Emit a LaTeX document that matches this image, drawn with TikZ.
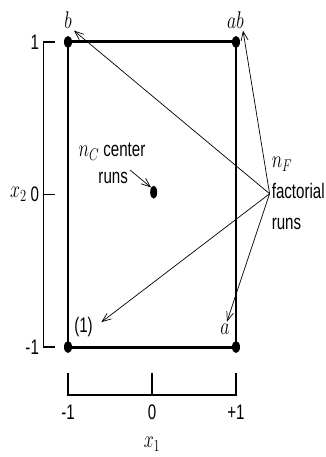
\documentclass[tikz,border=0pt]{standalone}
\usepackage{fix-cm}
\usepackage{fontspec}
\setmainfont{Liberation Sans}[FakeStretch=0.72]
\usetikzlibrary{arrows.meta,shapes.geometric}

% schmale Mathe-Labels
\newcommand{\nm}[1]{\scalebox{0.85}[1.15]{$#1$}}

\tikzset{
    run/.style={ellipse, fill=black, inner sep=0pt, minimum width=8pt, minimum height=12pt},
    pointer/.style={-{Straight Barb[length=9pt,width=7pt]}, line width=0.7pt},
    ruler/.style={line width=1.3pt},
    lbl/.style={inner sep=2pt}
}

\begin{document}
\begin{tikzpicture}[x=84pt, y=152.5pt, font=\fontsize{21}{31}\selectfont]
    \useasboundingbox (-1.8095,-1.7213) rectangle (2.0714,1.2754);

    % 设计点 (四个角点和中心点)
    \node[run] (mm) at (-1,-1) {};
    \node[run] (pm) at (1,-1) {};
    \node[run] (pp) at (1,1) {};
    \node[run] (mp) at (-1,1) {};
    \node[run, minimum width=7pt, minimum height=13pt] (cdot) at (0.02,0.015) {};

    % 方框
    \draw[line width=3pt] (mm.center) -- (pm.center);
    \draw[line width=3pt] (mp.center) -- (pp.center);
    \draw[line width=2pt] (mm.center) -- (mp.center);
    \draw[line width=2pt] (pm.center) -- (pp.center);

    % 左侧标尺 x_2
    \def\ax{-1.29}
    \def\at{-1.15}
    \draw[ruler] (\at,1) -- (\ax,1) -- (\ax,-1) -- (\at,-1);
    \draw[ruler] (\ax,0) -- (\at,0);
    \node[lbl, anchor=east] (y1) at (-1.32,1) {1};
    \node[lbl, anchor=east] (y0) at (-1.32,0) {0};
    \node[lbl, anchor=east] (ym) at (-1.32,-1) {-1};
    \node[lbl] (x2) at (-1.59,0) {\nm{x_2}};

    % 下方标尺 x_1
    \def\by{-1.315}
    \def\bt{-1.17}
    \draw[ruler] (-1,\bt) -- (-1,\by) -- (1,\by) -- (1,\bt);
    \draw[ruler] (0,\by) -- (0,\bt);
    \node[lbl] (xm) at (-1,-1.426) {-1};
    \node[lbl] (x0) at (0,-1.426) {0};
    \node[lbl] (xp) at (1,-1.426) {+1};
    \node[lbl] (x1) at (0,-1.64) {\nm{x_1}};

    % 角点标记
    \node[lbl] (lb) at (-1,1.144) {\nm{b}};
    \node[lbl] (lab) at (0.994,1.144) {\nm{ab}};
    \node[lbl] (la) at (0.869,-0.882) {\nm{a}};
    \node[lbl] (l1) at (-0.815,-0.869) {(1)};

    % 中心点说明
    \node[lbl] (ctop) at (-0.476,0.279) {\nm{n_C} center};
    \node[lbl] (cruns) at (-0.462,0.108) {runs};
    \draw[pointer] (cruns.north east) -- (cdot.north west);

    % 析因点说明
    \node[lbl, anchor=west, align=left] (fnote) at (1.40,0.005) {\nm{n_F}\\factorial\\runs};
    \draw[pointer] (fnote.west) -- (lb.south east);
    \draw[pointer] (fnote.west) -- ([xshift=-3pt]lab.south east);
    \draw[pointer, shorten >=8pt] (fnote.west) -- (l1.east);
    \draw[pointer] (fnote.west) -- ([xshift=2pt]la.north);
\end{tikzpicture}
\end{document}
